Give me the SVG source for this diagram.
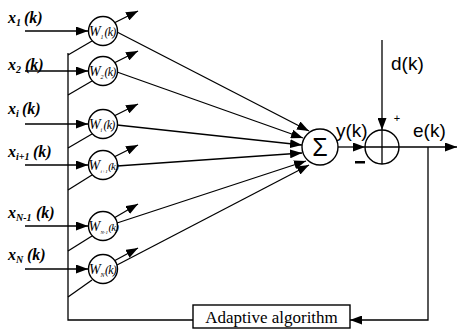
<svg xmlns="http://www.w3.org/2000/svg" width="458" height="329" viewBox="0 0 458 329">
<defs>
<marker id="ah" markerUnits="userSpaceOnUse" markerWidth="12" markerHeight="9" refX="12" refY="4.5" orient="auto"><path d="M0,0 L12,4.5 L0,9 z" fill="#000"/></marker>
</defs>
<style>
.ln{stroke:#000;stroke-width:1.3;fill:none}
.node{fill:#fff;stroke:#000;stroke-width:1.4}
.xl{font-family:"Liberation Serif",serif;font-style:italic;font-weight:bold;font-size:16px;fill:#000}
.xs{font-size:10px}
.wl{font-family:"Liberation Serif",serif;font-style:italic;font-size:14px;fill:#000}
.wk{font-size:12px;letter-spacing:-0.8px}
.wk2{font-size:11px;letter-spacing:-0.8px}
.ws{font-size:6px}
.ws2{font-size:5px}
.sl{font-family:"Liberation Sans",Arial,sans-serif;font-size:19px;fill:#000}
.bt{font-family:"Liberation Serif",serif;font-size:17px;fill:#000}
</style>
<rect width="458" height="329" fill="#fff"/>

<g id="connectors">
  <path class="ln" d="M68,53 V320 H193"/>
  <path class="ln" d="M68,55 L92,41"/>
  <path class="ln" d="M68,95 L92,81"/>
  <path class="ln" d="M68,148 L92,134"/>
  <path class="ln" d="M68,190 L92,175"/>
  <path class="ln" d="M68,251 L92,236"/>
  <path class="ln" d="M68,297 L92,280"/>
  <path class="ln" d="M25,31 H88" marker-end="url(#ah)"/>
  <path class="ln" d="M25,71 H88" marker-end="url(#ah)"/>
  <path class="ln" d="M25,124 H88" marker-end="url(#ah)"/>
  <path class="ln" d="M25,165 H88" marker-end="url(#ah)"/>
  <path class="ln" d="M25,226 H88" marker-end="url(#ah)"/>
  <path class="ln" d="M25,269 H88" marker-end="url(#ah)"/>
  <path class="ln" d="M114,23 L138,11" marker-end="url(#ah)"/>
  <path class="ln" d="M114,63 L138,51" marker-end="url(#ah)"/>
  <path class="ln" d="M114,116 L138,104" marker-end="url(#ah)"/>
  <path class="ln" d="M114,157 L138,145" marker-end="url(#ah)"/>
  <path class="ln" d="M114,218 L138,204" marker-end="url(#ah)"/>
  <path class="ln" d="M114,261 L138,248" marker-end="url(#ah)"/>
  <path class="ln" d="M117,32 L309,131" marker-end="url(#ah)"/>
  <path class="ln" d="M117,72 L303,138" marker-end="url(#ah)"/>
  <path class="ln" d="M117,125 L302,145" marker-end="url(#ah)"/>
  <path class="ln" d="M117,166 L302,153" marker-end="url(#ah)"/>
  <path class="ln" d="M117,223 L306,161" marker-end="url(#ah)"/>
  <path class="ln" d="M117,265 L309,165" marker-end="url(#ah)"/>
  <path class="ln" d="M338,147 H365" marker-end="url(#ah)"/>
  <path class="ln" d="M382,40 V130" marker-end="url(#ah)"/>
  <path class="ln" d="M399,147 H457" marker-end="url(#ah)"/>
  <path class="ln" d="M428,147 V320 H350" marker-end="url(#ah)"/>
</g>

<g id="labels-in">
  <text class="xl" x="8" y="23">x<tspan class="xs" dy="3">1</tspan><tspan x="24" dy="-3">(k)</tspan></text>
  <text class="xl" x="8" y="70">x<tspan class="xs" dy="3">2</tspan><tspan x="25" dy="-3">(k)</tspan></text>
  <text class="xl" x="8" y="114">x<tspan class="xs" dy="3">i</tspan><tspan x="22" dy="-3">(k)</tspan></text>
  <text class="xl" x="8" y="157">x<tspan class="xs" dy="3">i+1</tspan><tspan x="33" dy="-3">(k)</tspan></text>
  <text class="xl" x="8" y="218">x<tspan class="xs" dy="3">N-1</tspan><tspan x="36" dy="-3">(k)</tspan></text>
  <text class="xl" x="8" y="260">x<tspan class="xs" dy="3">N</tspan><tspan x="27" dy="-3">(k)</tspan></text>
</g>

<g id="w1"><circle class="node" cx="103" cy="31" r="14.5"/><text class="wl" x="89" y="36">W<tspan class="ws" x="100.5" dy="3">1</tspan><tspan class="wk" x="104.5" dy="-3">(k)</tspan></text></g>
<g id="w2"><circle class="node" cx="103" cy="71" r="14.5"/><text class="wl" x="89" y="76">W<tspan class="ws" x="100.5" dy="3">2</tspan><tspan class="wk" x="104.5" dy="-3">(k)</tspan></text></g>
<g id="w3"><circle class="node" cx="103" cy="124" r="14.5"/><text class="wl" x="89" y="129">W<tspan class="ws" x="100.5" dy="3">i</tspan><tspan class="wk" x="103.5" dy="-3">(k)</tspan></text></g>
<g id="w4"><circle class="node" cx="103" cy="165" r="14.5"/><text class="wl" x="88.5" y="170">W<tspan class="ws2" x="100.5" dy="3">i+1</tspan><tspan class="wk2" x="108.2" dy="-3">(k)</tspan></text></g>
<g id="w5"><circle class="node" cx="103" cy="226" r="14.5"/><text class="wl" x="88.5" y="231">W<tspan class="ws2" x="100.5" dy="3">N-1</tspan><tspan class="wk2" x="108.4" dy="-3">(k)</tspan></text></g>
<g id="w6"><circle class="node" cx="103" cy="269" r="14.5"/><text class="wl" x="89" y="274">W<tspan class="ws" x="100.5" dy="3">N</tspan><tspan class="wk" x="105" dy="-3">(k)</tspan></text></g>

<g id="sum"><circle class="node" cx="320" cy="147" r="18"/><text x="320" y="156" text-anchor="middle" style="font-family:'Liberation Sans',sans-serif;font-size:25px">Σ</text></g>

<g id="adder"><circle class="node" cx="382" cy="147" r="17"/><path class="ln" d="M365,147 H399 M382,130 V164"/></g>

<g id="signals">
  <text class="sl" x="336" y="137">y(k)</text>
  <text class="sl" x="413" y="137">e(k)</text>
  <text class="sl" x="391" y="70">d(k)</text>
  <text x="397" y="122" text-anchor="middle" style="font-family:'Liberation Sans',sans-serif;font-size:11px">+</text>
  <rect x="355" y="161" width="10" height="2.5" fill="#000"/>
</g>

<g id="adaptive"><rect class="node" x="193" y="305" width="157" height="23"/><text class="bt" x="271.5" y="323" text-anchor="middle">Adaptive algorithm</text></g>
</svg>
